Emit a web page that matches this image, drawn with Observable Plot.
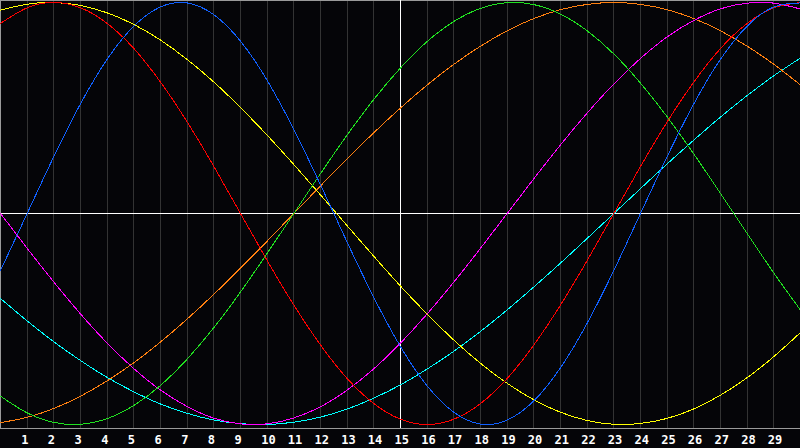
<!DOCTYPE html>
<html>
<head>
<meta charset="utf-8">
<script src="https://cdn.jsdelivr.net/npm/d3@7"></script>
<script src="https://cdn.jsdelivr.net/npm/@observablehq/plot@0.6"></script>
<style>
  html, body { margin: 0; padding: 0; background: #050508; }
  #chart svg { display: block; }
  #chart svg path, #chart svg line, #chart svg rect { shape-rendering: crispEdges; }
</style>
</head>
<body>
<div id="chart"></div>
<script>
const days = d3.range(0, 31);
const tickDays = d3.range(1, 30);
const todayDay = [15];

const physical     = [-0.27,0,0.27,0.52,0.731,0.888,0.979,0.998,0.942,0.817,0.631,0.398,0.136,-0.136,-0.398,-0.631,-0.817,-0.942,-0.998,-0.979,-0.888,-0.731,-0.52,-0.27,0,0.27,0.52,0.731,0.888,0.979,0.998];
const emotional    = [0.901,0.975,1,0.975,0.901,0.782,0.623,0.434,0.223,0,-0.223,-0.434,-0.623,-0.782,-0.901,-0.975,-1,-0.975,-0.901,-0.782,-0.623,-0.434,-0.223,0,0.223,0.434,0.623,0.782,0.901,0.975,1];
const intellectual = [-0.866,-0.945,-0.99,-0.999,-0.972,-0.91,-0.815,-0.69,-0.541,-0.372,-0.189,0,0.189,0.372,0.541,0.69,0.815,0.91,0.972,0.999,0.99,0.945,0.866,0.756,0.618,0.458,0.282,0.095,-0.095,-0.282,-0.458];
const intuitive    = [0,-0.165,-0.325,-0.476,-0.614,-0.735,-0.837,-0.915,-0.97,-0.997,-0.997,-0.969,-0.916,-0.837,-0.736,-0.614,-0.476,-0.325,-0.165,0,0.165,0.325,0.476,0.614,0.735,0.837,0.915,0.97,0.997,0.997,0.969];
const aesthetic    = [0.964,0.992,1,0.986,0.951,0.896,0.822,0.73,0.623,0.502,0.371,0.232,0.088,-0.058,-0.203,-0.344,-0.477,-0.6,-0.71,-0.805,-0.883,-0.942,-0.981,-0.999,-0.995,-0.971,-0.926,-0.861,-0.778,-0.678,-0.564];
const awareness    = [-0.991,-0.966,-0.924,-0.866,-0.793,-0.707,-0.609,-0.5,-0.383,-0.259,-0.131,0,0.131,0.259,0.383,0.5,0.609,0.707,0.793,0.866,0.924,0.966,0.991,1,0.991,0.966,0.924,0.866,0.793,0.707,0.609];
const spiritual    = [-0.403,-0.509,-0.608,-0.697,-0.777,-0.845,-0.903,-0.947,-0.979,-0.996,-1,-0.989,-0.965,-0.927,-0.875,-0.812,-0.737,-0.653,-0.559,-0.457,-0.348,-0.235,-0.118,0,0.118,0.235,0.348,0.457,0.559,0.653,0.737];

const seriesNames  = ["spiritual","awareness","intuitive","aesthetic","intellectual","emotional","physical"];
const seriesValues = [spiritual, awareness, intuitive, aesthetic, intellectual, emotional, physical];
const seriesColors = ["#00ffff","#ff8010","#ff00ff","#ffff00","#20e020","#ff0000","#1060ff"];

const rows = [];
seriesNames.forEach((name, i) => {
  days.forEach((d, j) => rows.push({series: name, day: d, value: seriesValues[i][j]}));
});

const chart = Plot.plot({
  width: 800,
  height: 448,
  marginTop: 0,
  marginBottom: 20,
  marginLeft: 0,
  marginRight: 0,
  style: {background: "#050508", fontFamily: "'DejaVu Sans Mono', monospace"},
  x: {domain: [0, 30]},
  y: {domain: [-1, 1], range: [424, 2], axis: null},
  color: {domain: seriesNames, range: seriesColors},
  marks: [
    Plot.ruleX(tickDays.filter(d => d !== 15), {stroke: "#333333", strokeWidth: 1}),
    Plot.frame({stroke: "#9a9a9a", strokeWidth: 1}),
    Plot.ruleX(todayDay, {stroke: "#ffffff", strokeWidth: 1}),
    Plot.ruleY([0], {stroke: "#ffffff", strokeWidth: 1}),
    Plot.line(rows, {x: "day", y: "value", z: "series", stroke: "series", strokeWidth: 1, curve: "natural"}),
    Plot.axisX(tickDays, {
      tickSize: 0, tickPadding: 7, textAnchor: "start", dx: -6,
      fill: "#ffffff", fontSize: 12, fontWeight: "bold", label: null
    })
  ]
});
document.getElementById("chart").appendChild(chart);
</script>
</body>
</html>
